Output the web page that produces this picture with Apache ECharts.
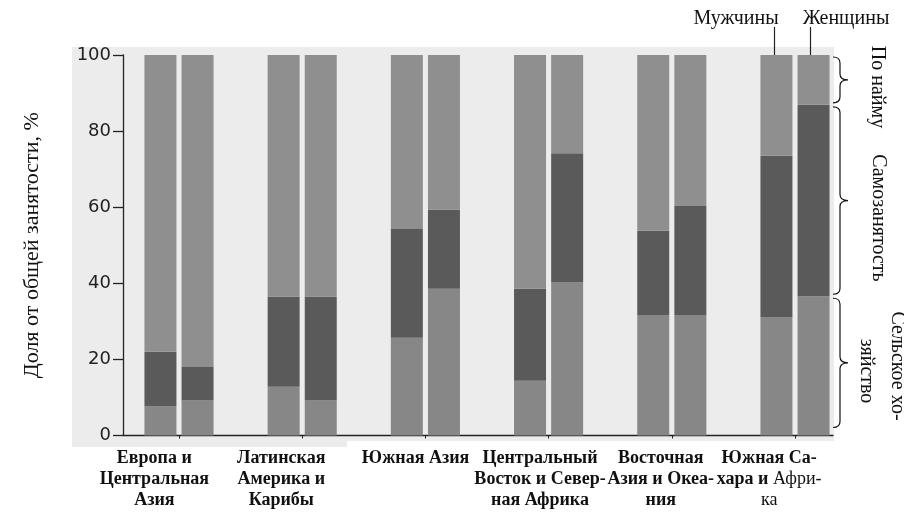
<!DOCTYPE html>
<html>
<head>
<meta charset="utf-8">
<script src="https://cdn.jsdelivr.net/npm/echarts@6/dist/echarts.min.js"></script>
<style>html,body{margin:0;padding:0;background:#fff;}#c{width:904px;height:517px;}</style>
</head>
<body>
<div id="c"></div>
<script>
// ---- data ----
const categories = [
  'Европа и\nЦентральная\nАзия',
  'Латинская\nАмерика и\nКарибы',
  'Южная Азия',
  'Центральный\nВосток и Север-\nная Африка',
  'Восточная\nАзия и Океа-\nния',
  'Южная Са-\nхара и {n|Афри-}\n{n|ка}'
];
const menAgri   = [7.6, 12.8, 25.7, 14.4, 31.7, 31.0];
const menSelf   = [14.4, 23.7, 28.6, 24.2, 22.1, 42.5];
const menWage   = [78.0, 63.5, 45.7, 61.4, 46.2, 26.5];
const womenAgri = [9.2, 9.2, 38.6, 40.2, 31.7, 36.6];
const womenSelf = [8.8, 27.3, 20.8, 34.0, 28.6, 50.3];
const womenWage = [82.0, 63.5, 40.6, 25.8, 39.7, 13.1];
const labelShift = [-0.20, -0.17, -0.08, -0.07, -0.09, -0.21];

const colAgri = '#878787', colSelf = '#5a5a5a', colWage = '#8f8f8f';
const idx = categories.map((_, i) => i);

function barSeries(name, stack, data, color) {
  return { name, type: 'bar', stack, data, barWidth: 32, barGap: '16%',
    xAxisIndex: 0, yAxisIndex: 0, itemStyle: { color }, z: 3 };
}

// braces beside the last (women) column segments
const last = categories.length - 1;
const wa = womenAgri[last], ws = womenSelf[last];
const braceData = [[last, 0, wa, 8], [last, wa, wa + ws, 2], [last, wa + ws, 100, 2]];

const serif = 'Liberation Serif';
function txt(x, y, text, rot) {
  return { type: 'text', x, y, rotation: rot || 0,
    style: { text, fontFamily: serif, fontSize: 20, fill: '#111', align: 'center', verticalAlign: 'middle' } };
}

const chart = echarts.init(document.getElementById('c'));
chart.setOption({
  animation: false,
  grid: [
    { left: 117.4, right: 47.4, top: 55, bottom: 81.5 },
    { left: 123, right: 71, top: 55, bottom: 81.5 }
  ],
  graphic: [
    { type: 'rect', z: -10, silent: true, shape: { x: 72, y: 47, width: 762, height: 394 }, style: { fill: '#ececec' } },
    { type: 'rect', z: -10, silent: true, shape: { x: 72, y: 441, width: 275, height: 6 }, style: { fill: '#ececec' } },
    txt(736, 19, 'Мужчины'),
    txt(846, 19, 'Женщины'),
    { type: 'line', shape: { x1: 774.5, y1: 27, x2: 774.5, y2: 55 }, style: { stroke: '#222', lineWidth: 1.2 } },
    { type: 'line', shape: { x1: 810.5, y1: 27, x2: 810.5, y2: 55 }, style: { stroke: '#222', lineWidth: 1.2 } },
    txt(877, 87, 'По найму', -Math.PI / 2),
    txt(878, 218, 'Самозанятость', -Math.PI / 2),
    txt(897, 366, 'Сельское хо-', -Math.PI / 2),
    txt(866, 371, 'зяйство', -Math.PI / 2)
  ],
  xAxis: [
    { type: 'category', gridIndex: 0, data: categories, show: false },
    {
      type: 'value', gridIndex: 1, min: -0.4545, max: 5.308,
      splitLine: { show: false },
      axisLine: { show: true, onZero: false, lineStyle: { color: '#222', width: 1.3 } },
      axisTick: { show: true, customValues: idx, length: 3, lineStyle: { color: '#222' } },
      axisLabel: {
        customValues: idx.map(i => i + labelShift[i]),
        formatter: v => categories[Math.round(v)],
        hideOverlap: false,
        margin: 12, fontFamily: serif, fontWeight: 'bold', fontSize: 18,
        lineHeight: 21, color: '#111', align: 'center',
        rich: { n: { fontFamily: serif, fontWeight: 'normal', fontSize: 18, lineHeight: 21, color: '#111' } }
      }
    }
  ],
  yAxis: [
    { type: 'value', gridIndex: 0, min: 0, max: 100, show: false },
    {
      type: 'value', gridIndex: 1, min: 0, max: 100, interval: 20,
      name: 'Доля от общей занятости, %', nameLocation: 'middle', nameRotate: 90, nameGap: 80,
      nameTextStyle: { fontFamily: serif, fontSize: 22, color: '#111' },
      splitLine: { show: false },
      axisLine: { show: true, onZero: false, lineStyle: { color: '#222', width: 1.3 } },
      axisTick: { show: true, length: 10, lineStyle: { color: '#222', width: 1.3 } },
      axisLabel: { margin: 12, fontFamily: 'DejaVu Sans', fontSize: 18, color: '#222' }
    }
  ],
  series: [
    barSeries('Мужчины: сельское хозяйство', 'men', menAgri, colAgri),
    barSeries('Мужчины: самозанятость', 'men', menSelf, colSelf),
    barSeries('Мужчины: по найму', 'men', menWage, colWage),
    barSeries('Женщины: сельское хозяйство', 'women', womenAgri, colAgri),
    barSeries('Женщины: самозанятость', 'women', womenSelf, colSelf),
    barSeries('Женщины: по найму', 'women', womenWage, colWage),
    {
      type: 'custom', silent: true, z: 5, xAxisIndex: 1, yAxisIndex: 1,
      encode: { x: 0, y: [1, 2] },
      data: braceData,
      renderItem: function (params, api) {
        const cs = params.coordSys;
        const x0 = cs.x + cs.width;
        const yb = api.coord([api.value(0), api.value(1)])[1] - api.value(3);
        const yt = api.coord([api.value(0), api.value(2)])[1] + 2;
        const xm = x0 + 7, xt = x0 + 15, r = 6, ym = (yt + yb) / 2;
        const d = 'M' + x0 + ',' + yt + ' Q' + xm + ',' + yt + ' ' + xm + ',' + (yt + r) +
          ' L' + xm + ',' + (ym - r) + ' Q' + xm + ',' + ym + ' ' + xt + ',' + ym +
          ' Q' + xm + ',' + ym + ' ' + xm + ',' + (ym + r) +
          ' L' + xm + ',' + (yb - r) + ' Q' + xm + ',' + yb + ' ' + x0 + ',' + yb;
        return { type: 'path', shape: { pathData: d }, style: { stroke: '#111', fill: 'none', lineWidth: 1.2 } };
      }
    }
  ]
});
</script>
</body>
</html>
